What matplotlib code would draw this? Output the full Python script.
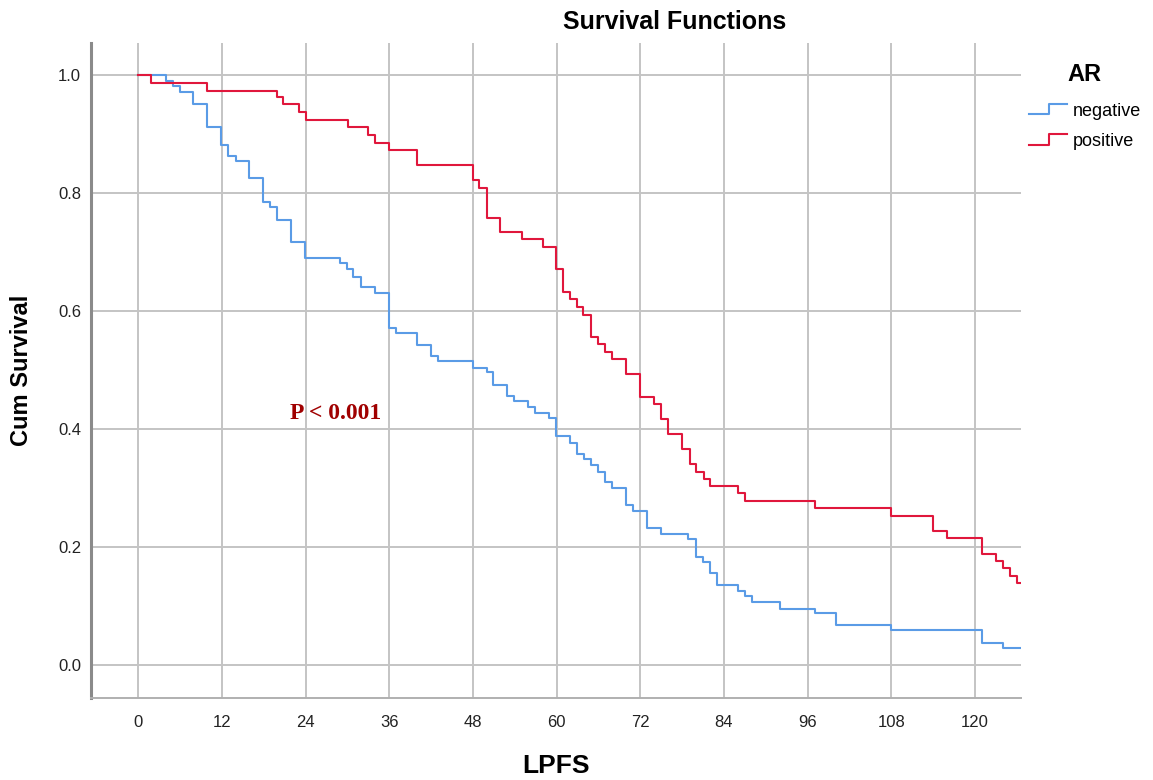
# Kaplan-Meier style survival functions by AR status
import matplotlib
matplotlib.use("Agg")
import matplotlib.pyplot as plt
from matplotlib.legend_handler import HandlerBase
from matplotlib.lines import Line2D

# Data
neg_t = [0, 4.0, 4.9, 6.0, 7.9, 9.9, 11.9, 12.9, 14.0, 15.9, 17.9, 18.9, 19.9, 21.9, 23.9,
         28.9, 29.9, 30.8, 32.0, 34.0, 36.0, 37.0, 40.0, 42.0, 43.0, 48.0, 50.0, 50.9, 52.9,
         53.9, 55.9, 56.9, 58.9, 59.9, 61.9, 62.9, 63.9, 64.9, 66.0, 67.0, 68.0, 70.0, 71.0,
         72.9, 74.9, 78.9, 80.0, 81.0, 82.0, 83.0, 86.0, 87.0, 88.0, 92.0, 97.0, 100.0,
         108.0, 121.0, 124.0, 127]
neg_s = [1.0, 0.990, 0.981, 0.971, 0.951, 0.912, 0.882, 0.863, 0.854, 0.825, 0.785, 0.777,
         0.755, 0.717, 0.689, 0.681, 0.671, 0.658, 0.640, 0.631, 0.572, 0.562, 0.543, 0.524,
         0.515, 0.504, 0.497, 0.475, 0.456, 0.447, 0.438, 0.427, 0.418, 0.389, 0.377, 0.358,
         0.349, 0.340, 0.328, 0.311, 0.301, 0.272, 0.261, 0.233, 0.223, 0.214, 0.184, 0.175,
         0.157, 0.136, 0.126, 0.117, 0.107, 0.096, 0.088, 0.068, 0.059, 0.038, 0.030, 0.030]

pos_t = [0, 1.8, 9.9, 19.9, 20.8, 23.0, 24.0, 30.0, 33.0, 34.0, 36.0, 40.0, 48.0, 48.9,
         50.0, 51.9, 55.0, 58.0, 59.9, 60.9, 61.9, 62.9, 63.8, 64.9, 66.0, 67.0, 67.9, 70.0,
         72.0, 74.0, 75.0, 75.9, 78.0, 79.1, 80.0, 81.1, 82.0, 86.0, 87.0, 97.0, 108.0,
         114.0, 116.0, 121.0, 123.0, 124.0, 125.0, 126.0, 127]
pos_s = [1.0, 0.987, 0.973, 0.962, 0.950, 0.937, 0.924, 0.911, 0.898, 0.885, 0.873, 0.847,
         0.822, 0.809, 0.758, 0.733, 0.722, 0.708, 0.671, 0.633, 0.620, 0.607, 0.594, 0.556,
         0.544, 0.531, 0.519, 0.493, 0.455, 0.442, 0.417, 0.392, 0.366, 0.341, 0.328, 0.315,
         0.303, 0.291, 0.278, 0.267, 0.253, 0.228, 0.215, 0.189, 0.176, 0.164, 0.151, 0.139,
         0.139]

x_ticks = [0, 12, 24, 36, 48, 60, 72, 84, 96, 108, 120]
y_ticks = [0.0, 0.2, 0.4, 0.6, 0.8, 1.0]

blue = "#5a9be6"
red = "#e0173c"
sans = ["Liberation Sans", "DejaVu Sans"]


# legend handle drawn as a small step
class StepHandler(HandlerBase):
    def create_artists(self, legend, orig_handle, xdescent, ydescent, width, height, fontsize, trans):
        xm = -xdescent + width * 0.55
        xs = [-xdescent, xm, xm, -xdescent + width]
        ys = [-ydescent + height * 0.1, -ydescent + height * 0.1,
              -ydescent + height * 0.95, -ydescent + height * 0.95]
        line = Line2D(xs, ys, color=orig_handle.get_color(), linewidth=1.5, transform=trans)
        return [line]


fig = plt.figure(figsize=(11.53, 7.8), dpi=100)
ax = fig.add_axes([0.0787, 0.1047, 0.8068, 0.8402])

neg_line, = ax.step(neg_t, neg_s, where="post", color=blue, linewidth=1.5, label="negative")
pos_line, = ax.step(pos_t, pos_s, where="post", color=red, linewidth=1.5, label="positive")

ax.set_xlim(-6.83, 126.6)
ax.set_ylim(-0.056, 1.054)
ax.set_xticks(x_ticks)
ax.set_yticks(y_ticks)
ax.set_yticklabels([f"{v:.1f}" for v in y_ticks])
ax.tick_params(axis="both", length=0, labelsize=12, colors="#222222")
ax.tick_params(axis="x", pad=12)
ax.tick_params(axis="y", pad=7)
for lab in ax.get_xticklabels() + ax.get_yticklabels():
    lab.set_family(sans)

ax.grid(True, color="#c4c4c4", linewidth=1.4)
ax.set_axisbelow(True)
for side in ["top", "right"]:
    ax.spines[side].set_visible(False)
ax.spines["left"].set_color("#8a8a8a")
ax.spines["left"].set_linewidth(2.2)
ax.spines["bottom"].set_color("#b0b0b0")
ax.spines["bottom"].set_linewidth(1.4)

ax.text(21.8, 0.427, "P < 0.001", color="#a00000", fontsize=17, fontweight="bold",
        family=["Liberation Serif", "DejaVu Serif"], va="center", ha="left")

ax.set_xlabel("LPFS", fontsize=19, fontweight="bold", family=sans, labelpad=17)
ax.set_ylabel("Cum Survival", fontsize=17, fontweight="bold", family=sans, labelpad=18)

fig.text(0.585, 0.972, "Survival Functions", fontsize=18, fontweight="bold",
         family=sans, ha="center", va="center")

leg = ax.legend(handles=[neg_line, pos_line], handler_map={Line2D: StepHandler()},
                title="AR", loc="upper left", bbox_to_anchor=(0.878, 0.94),
                bbox_transform=fig.transFigure, frameon=False, handlelength=2.1,
                handletextpad=0.35, labelspacing=0.75, prop={"family": sans, "size": 13},
                title_fontproperties={"family": sans, "size": 17, "weight": "bold"})
leg._legend_box.sep = 12

fig.savefig("out.png", dpi=100)
